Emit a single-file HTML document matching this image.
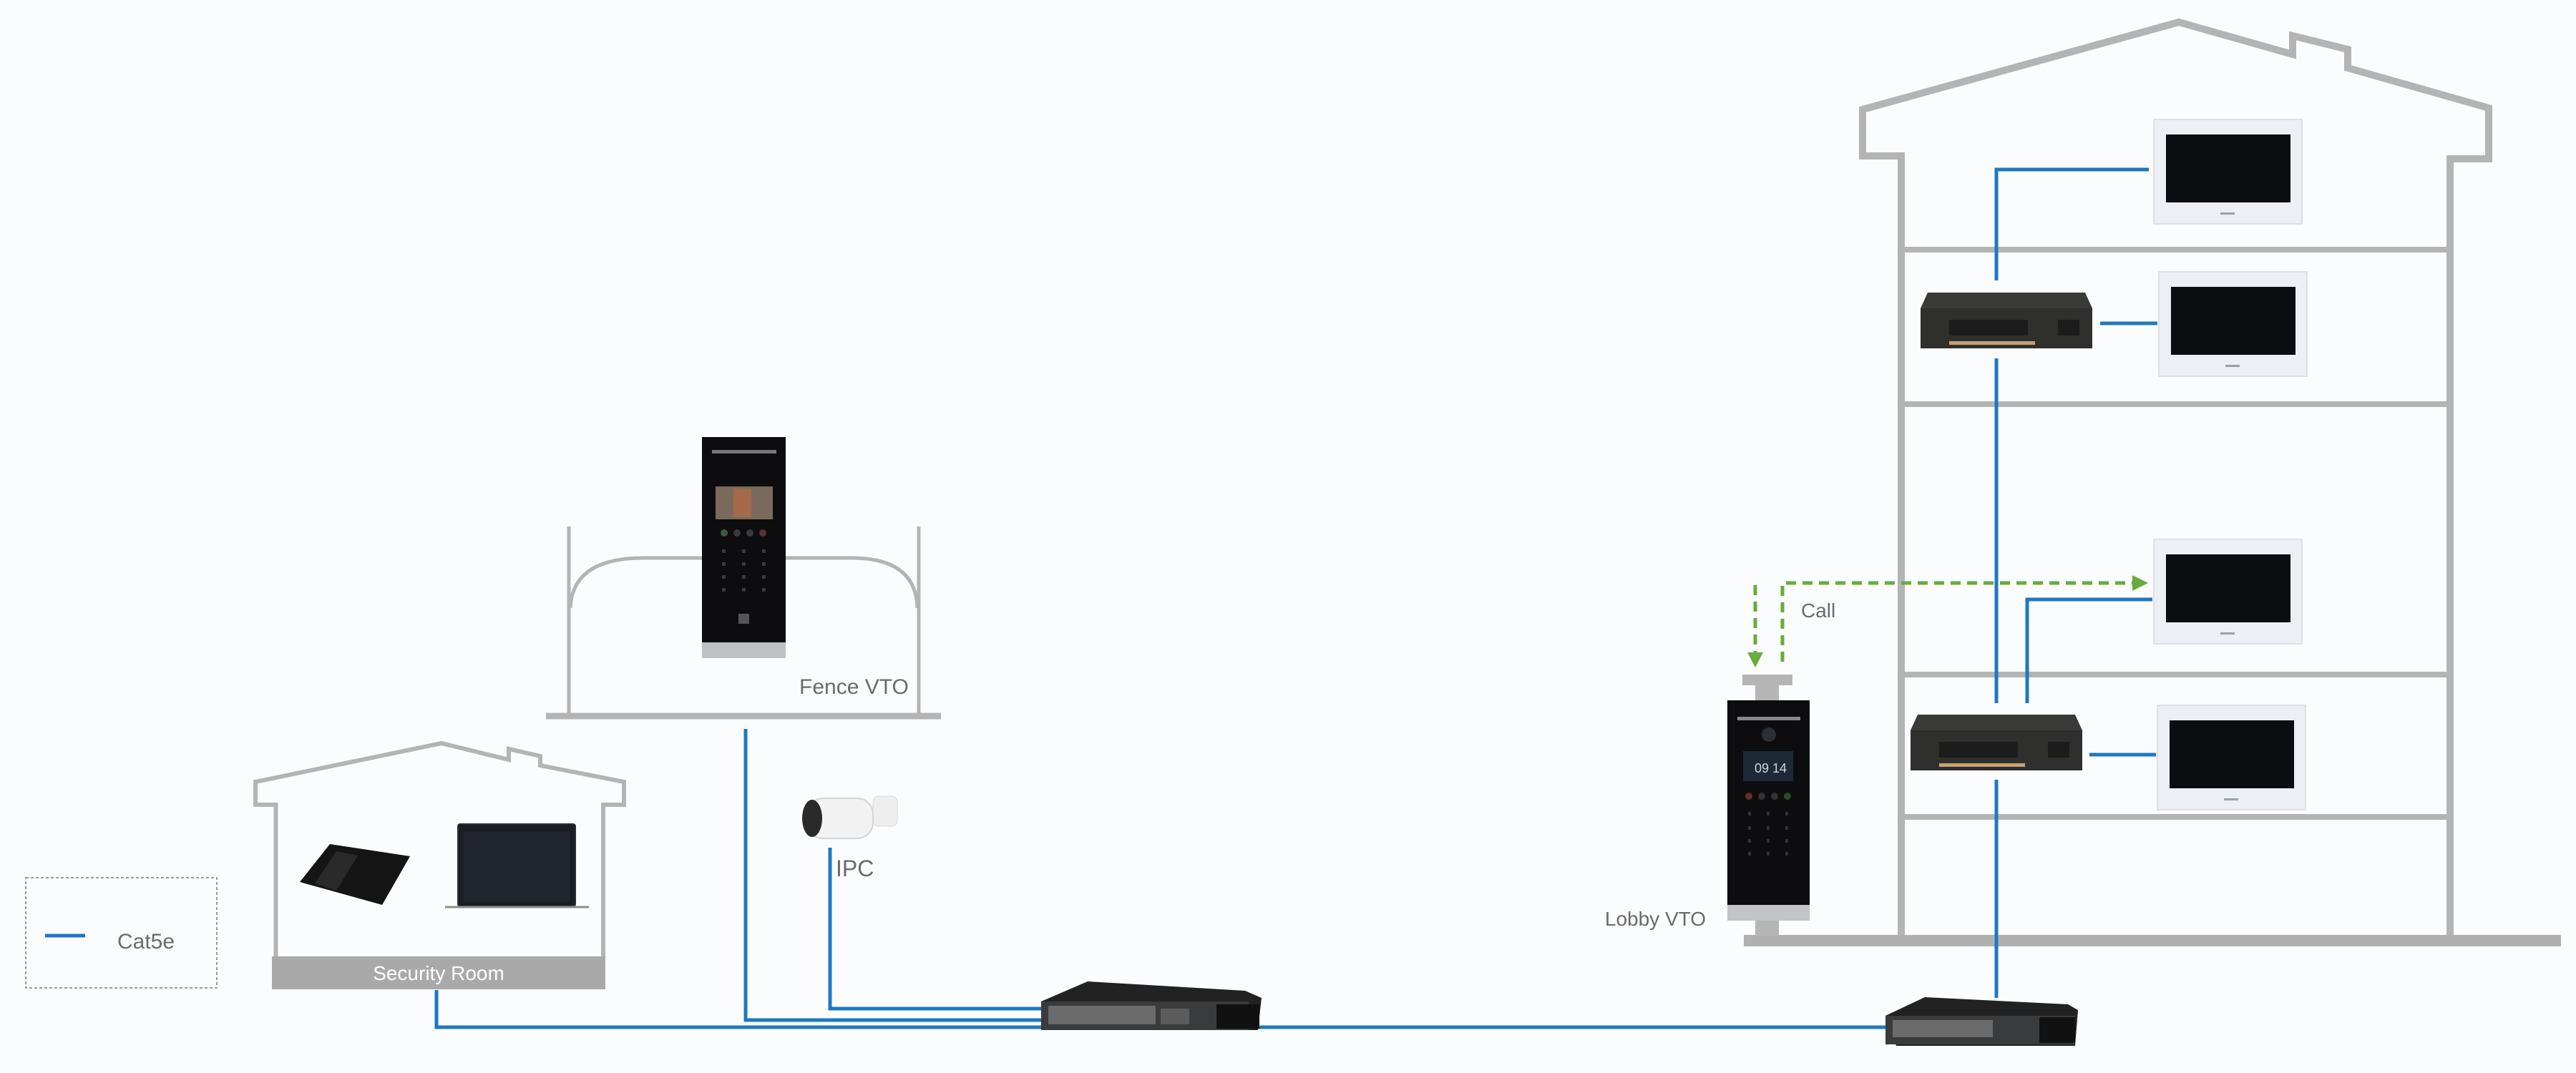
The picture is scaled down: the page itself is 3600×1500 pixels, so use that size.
<!DOCTYPE html>
<html><head><meta charset="utf-8"><style>
html,body{margin:0;padding:0;background:#fbfcfd;}
svg{display:block;}
text{font-family:"Liberation Sans",sans-serif;}
</style></head><body>
<svg width="3600" height="1500" viewBox="0 0 3600 1500" xmlns="http://www.w3.org/2000/svg">
<defs>
<g id="mon">
<rect x="0" y="0" width="207" height="146" fill="#eceff3" stroke="#dde1e6" stroke-width="2"/>
<rect x="17" y="21" width="174" height="95" fill="#0c0d10"/>
<rect x="93" y="130" width="20" height="3" fill="#9aa0a6"/>
</g>
<g id="sw">
<polygon points="10,0 230,0 240,22 240,78 0,78 0,22" fill="#3a3a38"/>
<rect x="0" y="22" width="240" height="56" fill="#2f2f2d"/>
<rect x="40" y="38" width="110" height="22" fill="#1c1c1c"/>
<rect x="192" y="38" width="30" height="22" fill="#1c1c1c"/>
<rect x="40" y="68" width="120" height="5" fill="#c9a070"/>
</g>
</defs>

<!-- legend -->
<rect x="36" y="1227" width="267" height="154" fill="none" stroke="#9a9a9a" stroke-width="2" stroke-dasharray="4,3"/>
<line x1="63" y1="1308" x2="119" y2="1308" stroke="#1e78c2" stroke-width="5"/>
<text x="164" y="1326" font-size="30" fill="#6b6b6b">Cat5e</text>

<!-- security room house -->
<polyline points="385.5,1337 385.5,1125 357,1125 357,1093 617,1039 711,1062 711,1047 755,1057 755,1070 872,1093 872,1125 843,1125 843,1337" fill="none" stroke="#b4b4b4" stroke-width="6"/>
<rect x="380" y="1337" width="466" height="46" fill="#a9a9a9"/>
<text x="613" y="1370" font-size="28" fill="#ffffff" text-anchor="middle">Security Room</text>
<polygon points="461,1180 573,1197 534,1265 419,1233" fill="#151515"/>
<polygon points="470,1190 500,1196 470,1245 440,1235" fill="#2a2a2a"/>
<rect x="640" y="1152" width="164" height="115" rx="3" fill="#1a1d22" stroke="#2c2f33" stroke-width="2"/>
<rect x="648" y="1163" width="148" height="98" fill="#22272e"/>
<line x1="622" y1="1268" x2="823" y2="1268" stroke="#8c8c8c" stroke-width="3"/>

<!-- fence -->
<line x1="795" y1="736" x2="795" y2="1001" stroke="#b4b4b4" stroke-width="5"/>
<line x1="1284" y1="736" x2="1284" y2="1001" stroke="#b4b4b4" stroke-width="5"/>
<path d="M797,850 Q800,780 900,780 L1190,780 Q1280,780 1282,850" fill="none" stroke="#b4b4b4" stroke-width="5"/>
<line x1="763" y1="1001" x2="1315" y2="1001" stroke="#b4b4b4" stroke-width="9"/>
<rect x="981" y="611" width="117" height="287" fill="#0d0d0f"/>
<rect x="981" y="898" width="117" height="22" fill="#bfc0c3"/>
<rect x="995" y="629" width="90" height="5" fill="#777"/>
<rect x="1000" y="680" width="80" height="46" fill="#7a6a5c"/>
<rect x="1025" y="683" width="25" height="40" fill="#a56a4a"/>
<g fill="#3a3a3a"><circle cx="1012" cy="745" r="5" fill="#3c5a3c"/><circle cx="1030" cy="745" r="5"/><circle cx="1048" cy="745" r="5"/><circle cx="1066" cy="745" r="5" fill="#5a3030"/>
<rect x="1009" y="768" width="5" height="5"/><rect x="1037" y="768" width="5" height="5"/><rect x="1065" y="768" width="5" height="5"/>
<rect x="1009" y="786" width="5" height="5"/><rect x="1037" y="786" width="5" height="5"/><rect x="1065" y="786" width="5" height="5"/>
<rect x="1009" y="804" width="5" height="5"/><rect x="1037" y="804" width="5" height="5"/><rect x="1065" y="804" width="5" height="5"/>
<rect x="1009" y="822" width="5" height="5"/><rect x="1037" y="822" width="5" height="5"/><rect x="1065" y="822" width="5" height="5"/>
<rect x="1032" y="858" width="15" height="14" fill="#555"/></g>
<text x="1117" y="970" font-size="30" fill="#6b6b6b">Fence VTO</text>

<!-- IPC -->
<rect x="1220" y="1113" width="34" height="42" rx="8" fill="#eeeeee" stroke="#d8d8d8"/>
<rect x="1128" y="1116" width="92" height="56" rx="22" fill="#f2f2f2" stroke="#d5d5d5" stroke-width="2"/>
<ellipse cx="1135" cy="1144" rx="14" ry="26" fill="#2a2a2a"/>
<text x="1168" y="1225" font-size="32" fill="#6b6b6b">IPC</text>

<!-- blue cables left -->
<g fill="none" stroke="#1e78c2" stroke-width="5">
<polyline points="1042,1019 1042,1426 1460,1426"/>
<polyline points="1160,1185 1160,1410 1460,1410"/>
<polyline points="610,1384 610,1436 2640,1436"/>
</g>

<!-- center switch -->
<polygon points="1520,1372 1740,1385 1763,1395 1758,1440 1470,1440 1455,1400" fill="#222"/>
<rect x="1455" y="1400" width="290" height="40" fill="#3a3b3d"/>
<rect x="1465" y="1406" width="150" height="26" fill="#6b6b6b"/>
<rect x="1622" y="1410" width="40" height="22" fill="#5b5b5b"/>
<rect x="1700" y="1404" width="60" height="34" fill="#111"/>

<!-- big building -->
<polyline points="2657,1310 2657,218 2603,218 2603,153 3045,31 3204,76 3204,50 3281,69 3281,95 3478,151 3478,222 3424,222 3424,1310" fill="none" stroke="#b4b4b4" stroke-width="10"/>
<g stroke="#b4b4b4" stroke-width="8">
<line x1="2657" y1="349" x2="3424" y2="349"/>
<line x1="2657" y1="565" x2="3424" y2="565"/>
<line x1="2657" y1="943" x2="3424" y2="943"/>
<line x1="2657" y1="1142" x2="3424" y2="1142"/>
</g>
<rect x="2437" y="1307" width="1142" height="16" fill="#b0b0b0"/>

<!-- monitors -->
<use href="#mon" x="3010" y="167"/>
<use href="#mon" x="3017" y="380"/>
<use href="#mon" x="3010" y="754"/>
<use href="#mon" x="3015" y="986"/>

<!-- switches -->
<use href="#sw" x="2684" y="409"/>
<use href="#sw" x="2670" y="999"/>

<!-- blue building cables -->
<g fill="none" stroke="#1e78c2" stroke-width="5">
<polyline points="2790,392 2790,237 3003,237"/>
<line x1="2935" y1="452" x2="3015" y2="452"/>
<line x1="2790" y1="501" x2="2790" y2="983"/>
<polyline points="2833,983 2833,838 3008,838"/>
<line x1="2920" y1="1055" x2="3013" y2="1055"/>
<line x1="2790" y1="1090" x2="2790" y2="1395"/>
</g>

<!-- right switch -->
<polygon points="2690,1394 2890,1404 2904,1412 2900,1462 2650,1462 2635,1420" fill="#222"/>
<rect x="2635" y="1420" width="265" height="40" fill="#3a3b3d"/>
<rect x="2645" y="1426" width="140" height="24" fill="#6b6b6b"/>
<rect x="2850" y="1422" width="50" height="36" fill="#111"/>

<!-- lobby VTO -->
<rect x="2435" y="943" width="70" height="15" fill="#b5b5b5"/>
<rect x="2453" y="958" width="33" height="22" fill="#b5b5b5"/>
<rect x="2414" y="979" width="115" height="286" fill="#0d0d0f"/>
<rect x="2414" y="1265" width="115" height="22" fill="#c3c4c7"/>
<rect x="2453" y="1287" width="33" height="22" fill="#b5b5b5"/>
<rect x="2428" y="1002" width="88" height="5" fill="#888"/>
<circle cx="2472" cy="1027" r="10" fill="#2a2e36"/>
<rect x="2436" y="1050" width="70" height="42" fill="#1c2a36"/>
<text x="2452" y="1080" font-size="18" fill="#cfd6dc">09 14</text>
<g fill="#333"><circle cx="2444" cy="1113" r="5" fill="#6a2a2a"/><circle cx="2462" cy="1113" r="5"/><circle cx="2480" cy="1113" r="5"/><circle cx="2498" cy="1113" r="5" fill="#2a4a2a"/>
<rect x="2443" y="1135" width="4" height="5"/><rect x="2469" y="1135" width="4" height="5"/><rect x="2495" y="1135" width="4" height="5"/>
<rect x="2443" y="1155" width="4" height="5"/><rect x="2469" y="1155" width="4" height="5"/><rect x="2495" y="1155" width="4" height="5"/>
<rect x="2443" y="1173" width="4" height="5"/><rect x="2469" y="1173" width="4" height="5"/><rect x="2495" y="1173" width="4" height="5"/>
<rect x="2443" y="1191" width="4" height="5"/><rect x="2469" y="1191" width="4" height="5"/><rect x="2495" y="1191" width="4" height="5"/></g>
<text x="2384" y="1294" font-size="28" fill="#6b6b6b" text-anchor="end">Lobby VTO</text>

<!-- green call arrows -->
<g fill="none" stroke="#6aaa3e" stroke-width="5" stroke-dasharray="14,9">
<line x1="2453" y1="818" x2="2453" y2="915"/>
<polyline points="2491,925 2491,815 2985,815"/>
</g>
<polygon points="2442,912 2464,912 2453,933" fill="#6aaa3e"/>
<polygon points="2980,804 3002,815 2980,826" fill="#6aaa3e"/>
<text x="2517" y="863" font-size="28" fill="#6b6b6b">Call</text>
</svg>
</body></html>
